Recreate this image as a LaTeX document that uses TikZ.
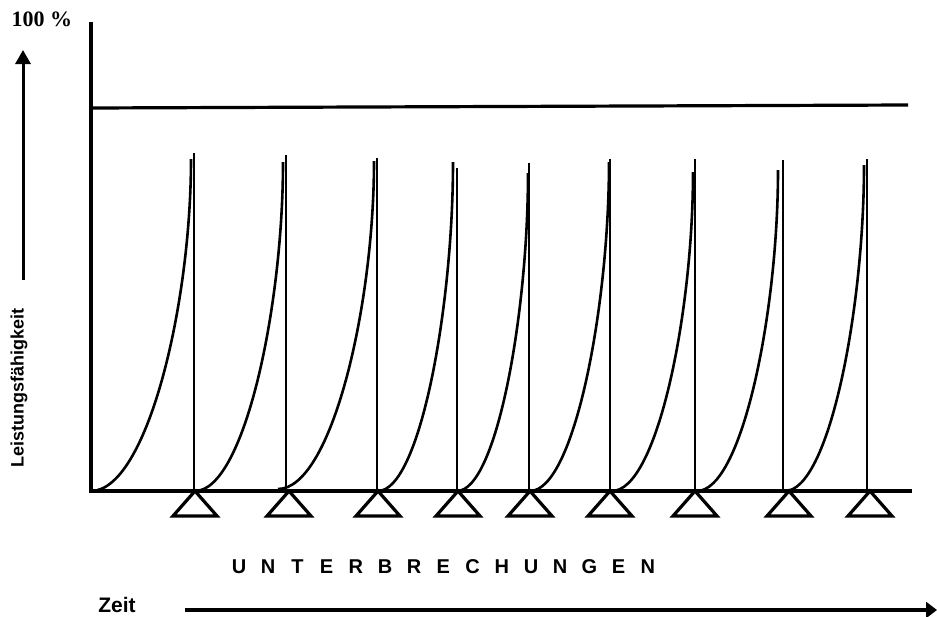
\documentclass[tikz,border=0pt]{standalone}
\usepackage{fontspec}
\setmainfont{Liberation Serif}
\setsansfont{Liberation Sans}
\usetikzlibrary{arrows.meta}
\begin{document}
\begin{tikzpicture}[x=1pt,y=-1pt,
  axisline/.style={line width=3.2pt},
  curveline/.style={line width=2.6pt},
  tri/.style={line width=3.2pt,line join=miter},
  lbl/.style={font=\sffamily\bfseries, inner sep=0pt},
  bigarrow/.style={line width=4pt,-{Triangle[length=11pt,width=16pt]}},
  uparrow/.style={line width=3pt,-{Triangle[length=14pt,width=15pt]}}]
\useasboundingbox (0,0) rectangle (937,616);
% axes
\draw[axisline] (91,22) -- (91,491) -- (912,491);
\draw[axisline] (91,108) -- (908,105);
% curves and verticals: xs/ys/xe/ye/xv/yv
\foreach \xs/\ys/\xe/\ye/\xv/\yv in {
  91/491/191/159/194/153,
  195/491/283/162/286/155,
  278/489/374/161/377/158,
  378/491/453/162/457/168,
  457/491/528/173/529/163,
  530/491/609/162/610/159,
  612/491/693/172/695/159,
  697/491/778/170/783/160,
  785/491/864/165/867/159}{
  \pgfmathsetmacro{\wa}{\xs+0.552*(\xe-\xs)}
  \pgfmathsetmacro{\hb}{\ye+0.448*(\ys-\ye)}
  \draw[curveline] (\xs,\ys) .. controls (\wa,\ys) and (\xe,\hb) .. (\xe,\ye);
  \draw[curveline] (\xv,\yv) -- (\xv,491);
}
% triangles
\foreach \t in {195,289,378,458,530,610,695,789,870}{
  \draw[tri] (\t,491) -- (\t+22,516) -- (\t-22,516) -- cycle;
}
% labels
\node[font=\bfseries\fontsize{22}{24}\selectfont, inner sep=0pt, anchor=base] (hundert) at (42,26.5) {100 \%};
\coordinate (upA) at (23,280);
\coordinate (upB) at (23,50);
\draw[uparrow] (upA) -- (upB);
\node[lbl, font=\sffamily\bfseries\fontsize{18}{20}\selectfont, rotate=90] (leist) at (19,388) {Leistungsfähigkeit};
\foreach \c [count=\i from 0] in {U,N,T,E,R,B,R,E,C,H,U,N,G,E,N}{
  \node[lbl, font=\sffamily\bfseries\fontsize{20}{22}\selectfont, anchor=base] (u\i) at (239+29.2*\i,573.5) {\c};
}
\node[lbl, font=\sffamily\bfseries\fontsize{21}{23}\selectfont, anchor=base] (zeit) at (117,612) {Zeit};
\coordinate (zA) at (185,610);
\coordinate (zB) at (937,610);
\draw[bigarrow] (zA) -- (zB);
\end{tikzpicture}
\end{document}
